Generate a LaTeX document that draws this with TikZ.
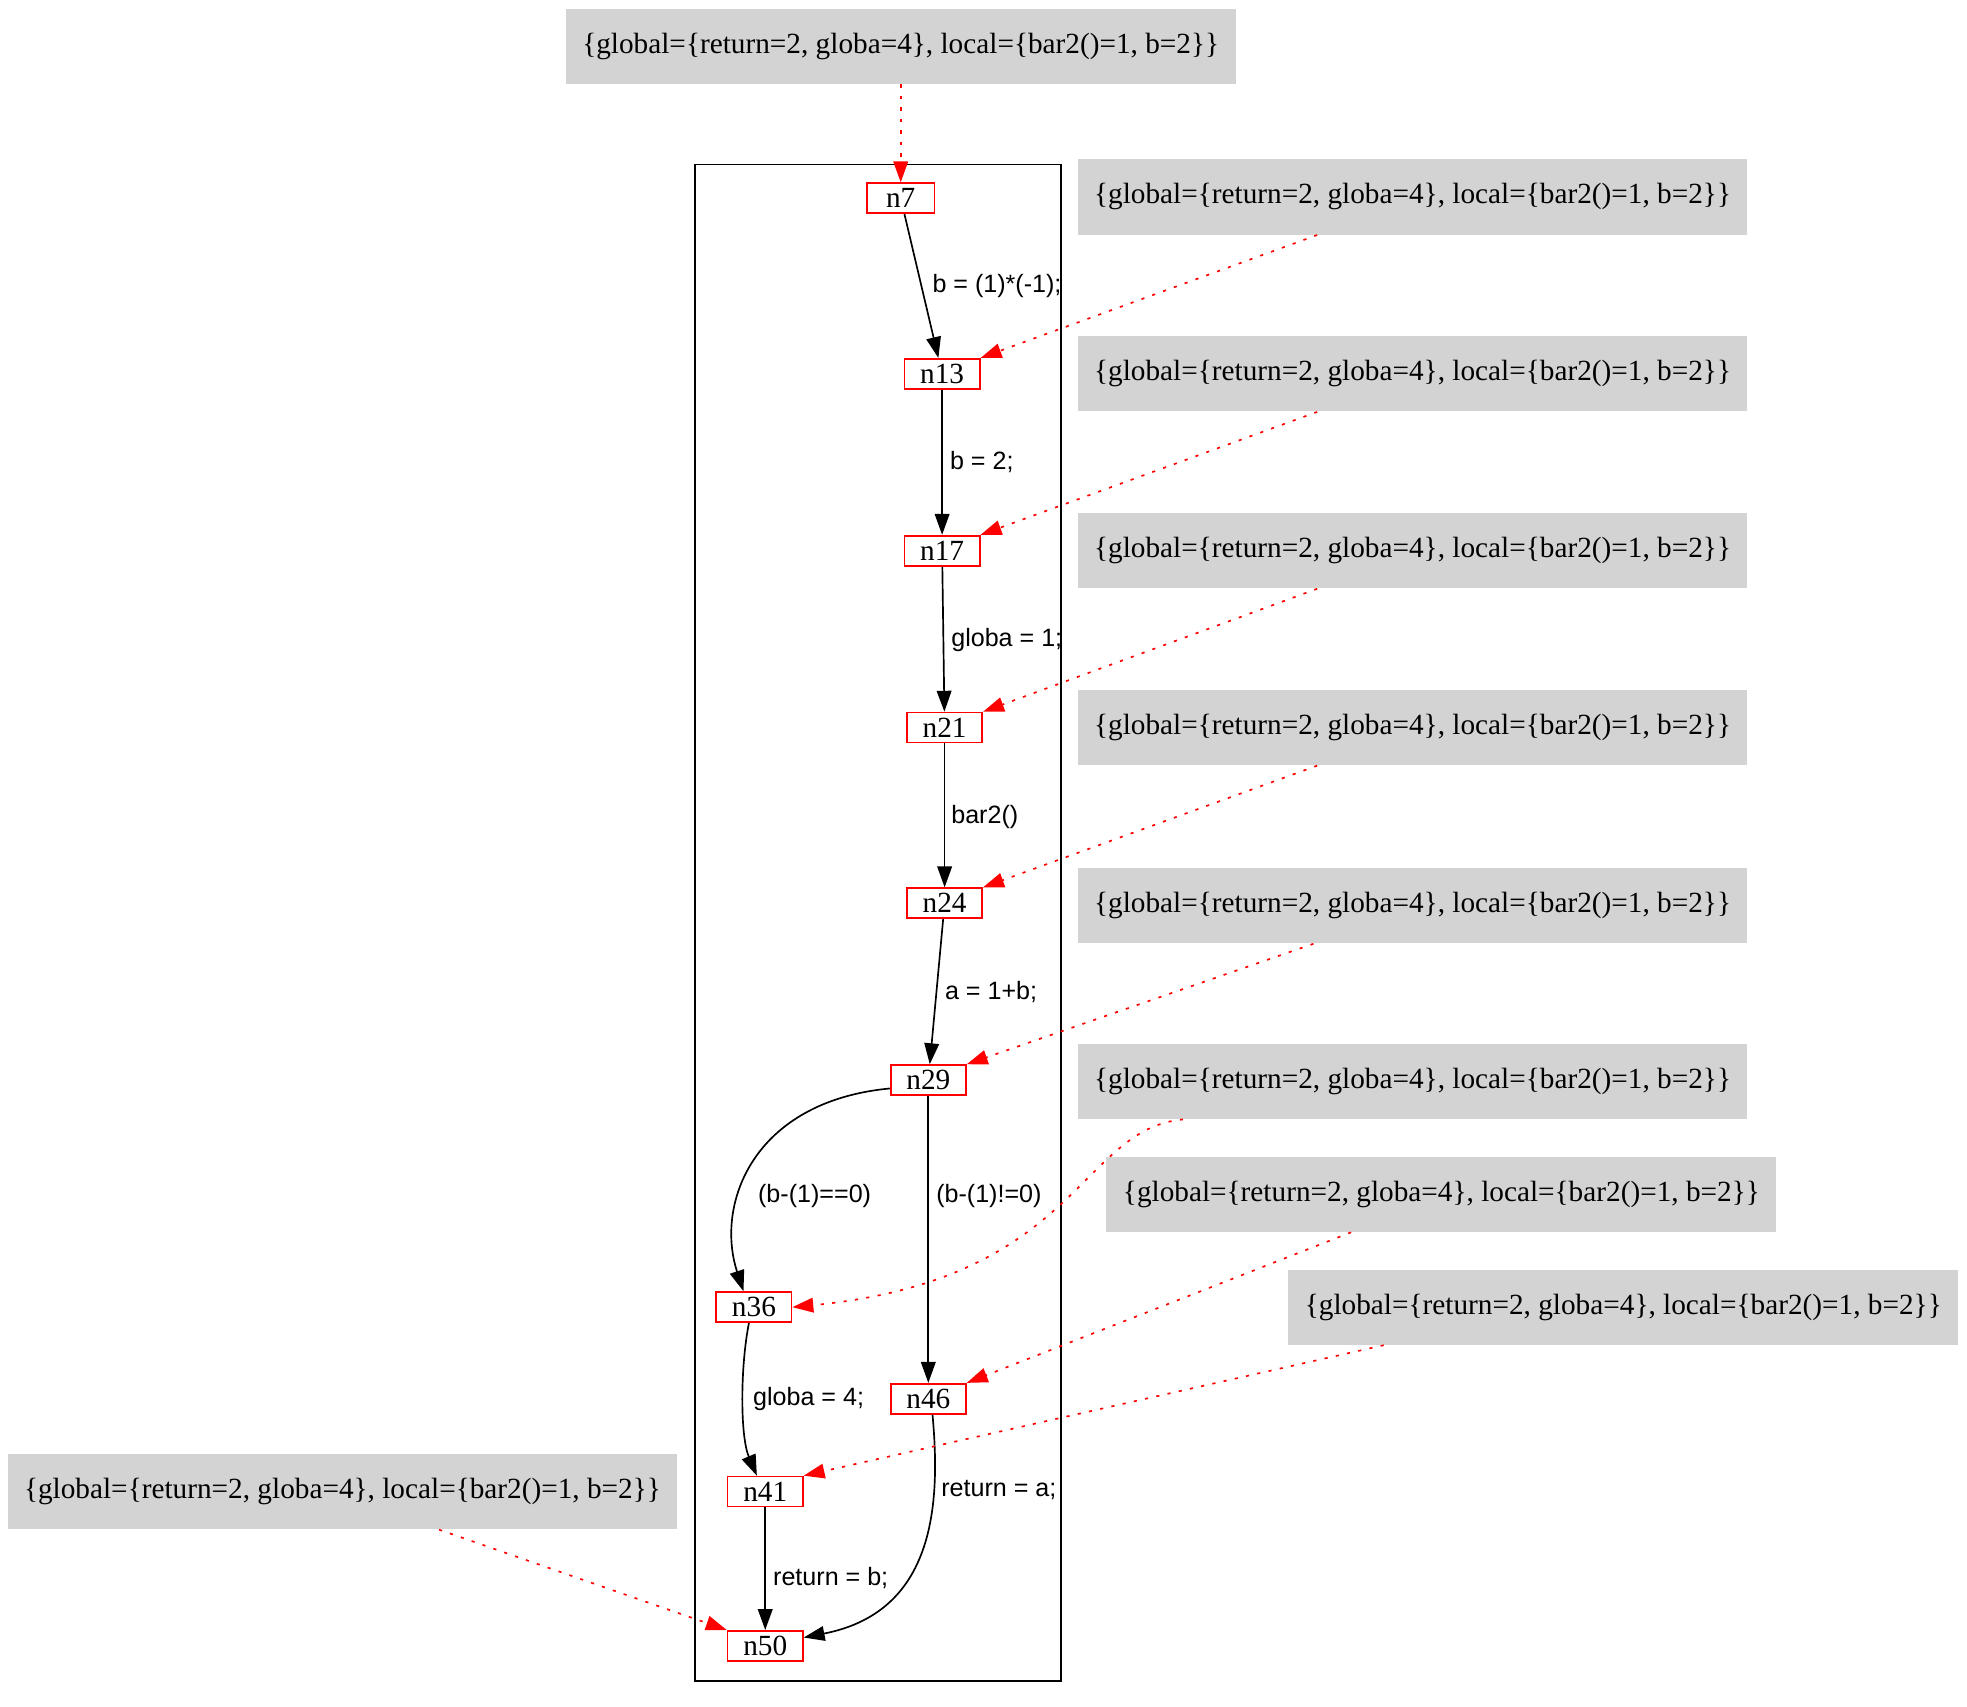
\documentclass[tikz,border=0pt]{standalone}
\usepackage{fontspec}
\setmainfont{Liberation Serif}
\newfontfamily\lblfont{Liberation Sans}
\usepackage{tikz}
\usetikzlibrary{arrows.meta}

\begin{document}
\begin{tikzpicture}[x=0.6pt,y=-0.6pt,
    cfg/.style={draw=ffqqqq,line width=0.8pt,minimum width=36pt,minimum height=14.4pt,inner sep=0pt,font=\fontsize{14}{16}\selectfont},
    state/.style={fill=dtdtdt,minimum width=320.4pt,minimum height=36pt,inner sep=0pt,font=\fontsize{14}{16}\selectfont},
    lbl/.style={anchor=west,inner sep=0pt,font=\lblfont\fontsize{12}{14}\selectfont},
    flow/.style={line width=0.8pt,-{Triangle[length=10pt,width=7pt]}},
    info/.style={ffqqqq,line width=0.8pt,dash pattern=on 1.5pt off 4pt,-{Triangle[length=10pt,width=7pt]}}]
    \definecolor{ffqqqq}{rgb}{1,0,0}
    \definecolor{dtdtdt}{rgb}{0.8274509803921568,0.8274509803921568,0.8274509803921568}
    \useasboundingbox (0,0) rectangle (1568,1360);
    %cluster
    \draw [line width=0.8pt] (554,131) rectangle (846,1340);
    %nodes
    \node[cfg,minimum width=32.4pt] (n7) at (718,158) {n7};
    \node[cfg] (n13) at (751,298) {n13};
    \node[cfg] (n17) at (751,439) {n17};
    \node[cfg] (n21) at (753,580) {n21};
    \node[cfg] (n24) at (753,720) {n24};
    \node[cfg] (n29) at (740,861) {n29};
    \node[cfg] (n36) at (601,1042) {n36};
    \node[cfg] (n46) at (740,1115) {n46};
    \node[cfg] (n41) at (610,1189) {n41};
    \node[cfg] (n50) at (610,1312) {n50};
    %states
    \node[state] (s7) at (718,37) {\{global=\{return=2, globa=4\}, local=\{bar2()=1, b=2\}\}};
    \node[state] (s13) at (1126,157) {\{global=\{return=2, globa=4\}, local=\{bar2()=1, b=2\}\}};
    \node[state] (s17) at (1126,298) {\{global=\{return=2, globa=4\}, local=\{bar2()=1, b=2\}\}};
    \node[state] (s21) at (1126,439) {\{global=\{return=2, globa=4\}, local=\{bar2()=1, b=2\}\}};
    \node[state] (s24) at (1126,580) {\{global=\{return=2, globa=4\}, local=\{bar2()=1, b=2\}\}};
    \node[state] (s29) at (1126,722) {\{global=\{return=2, globa=4\}, local=\{bar2()=1, b=2\}\}};
    \node[state] (s36) at (1126,862) {\{global=\{return=2, globa=4\}, local=\{bar2()=1, b=2\}\}};
    \node[state] (s46) at (1149,952) {\{global=\{return=2, globa=4\}, local=\{bar2()=1, b=2\}\}};
    \node[state] (s41) at (1294,1042) {\{global=\{return=2, globa=4\}, local=\{bar2()=1, b=2\}\}};
    \node[state] (s50) at (273,1189) {\{global=\{return=2, globa=4\}, local=\{bar2()=1, b=2\}\}};
    %edges
    \draw [flow] (n7) -- (n13);
    \draw [flow] (n13) -- (n17);
    \draw [flow] (n17) -- (n21);
    \draw [flow] (n21) -- (n24);
    \draw [flow] (n24) -- (n29);
    \draw [flow] ([yshift=-4pt]n29.west) .. controls (600,878) and (570,960) .. ([xshift=-5pt]n36.north);
    \draw [flow] (n29) -- (n46);
    \draw [flow] ([xshift=-2.4pt]n36.south) .. controls (590,1090) and (590,1145) .. ([xshift=-4pt]n41.north);
    \draw [flow] (n41) -- (n50);
    \draw [flow] ([xshift=2pt]n46.south) .. controls (750,1200) and (745,1285) .. ([yshift=4pt]n50.east);
    %labels
    \node[lbl] (l13) at (743,228) {b = (1)*(-1);};
    \node[lbl] (l17) at (757,368) {b = 2;};
    \node[lbl] (l21) at (758,510) {globa = 1;};
    \node[lbl] (l24) at (758,651) {bar2()};
    \node[lbl] (l29) at (753,791) {a = 1+b;};
    \node[lbl] (l36) at (604,953) {(b-(1)==0)};
    \node[lbl] (l46) at (746,953) {(b-(1)!=0)};
    \node[lbl] (l41) at (600,1115) {globa = 4;};
    \node[lbl] (l50b) at (750,1188) {return = a;};
    \node[lbl] (l50a) at (616,1258) {return = b;};
    %state arrows
    \draw [info] (s7) -- (n7);
    \draw [info] ([xshift=-45.6pt]s13.south) -- (n13.north east);
    \draw [info] ([xshift=-45.6pt]s17.south) -- (n17.north east);
    \draw [info] ([xshift=-45.6pt]s21.south) -- (n21.north east);
    \draw [info] ([xshift=-45.6pt]s24.south) -- (n24.north east);
    \draw [info] ([xshift=-47.4pt]s29.south) -- (n29.north east);
    \draw [info] ([xshift=-109.8pt]s36.south) .. controls (860,900) and (860,1020) .. (n36.east);
    \draw [info] ([xshift=-43.2pt]s46.south) -- (n46.north east);
    \draw [info] ([xshift=-114.6pt]s41.south) -- (n41.north east);
    \draw [info] ([xshift=46.2pt]s50.south) -- (n50.north west);
\end{tikzpicture}
\end{document}
